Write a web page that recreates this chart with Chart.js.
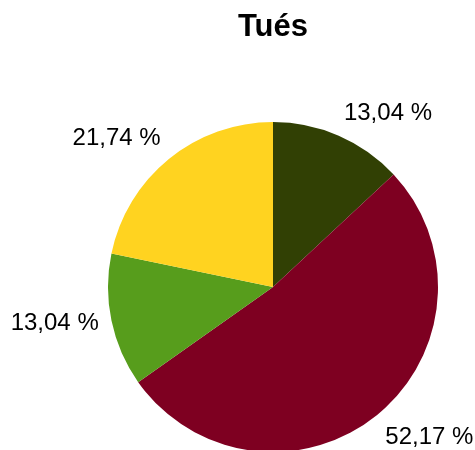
<!DOCTYPE html>
<html>
<head>
<meta charset="utf-8">
<script src="https://cdn.jsdelivr.net/npm/chart.js@4"></script>
<style>
  html, body { margin: 0; padding: 0; background: #fff; }
  #wrap { width: 475px; height: 450px; }
</style>
</head>
<body>
<div id="wrap"><canvas id="pie_chart"></canvas></div>
<script>
const titleText = "Tués";
const categories = ["A", "B", "C", "D"];
const values = [3, 12, 3, 5];
const colors = ["#314004", "#7e0021", "#579d1c", "#ffd320"];

// percent labels outside the slices, placed like LibreOffice does
const outsideLabels = {
  id: 'outsideLabels',
  afterDatasetsDraw(chart) {
    const { ctx } = chart;
    const meta = chart.getDatasetMeta(0);
    const total = values.reduce((a, b) => a + b, 0);
    ctx.save();
    ctx.font = '24px "Liberation Sans", Arial, sans-serif';
    ctx.fillStyle = '#000';
    meta.data.forEach((arc, i) => {
      const mid = (arc.startAngle + arc.endAngle) / 2;
      const r = arc.outerRadius + 13;
      const dx = Math.cos(mid), dy = Math.sin(mid);
      let x = arc.x + r * dx;
      let y = arc.y + r * dy;
      ctx.textAlign = dx >= 0 ? 'left' : 'right';
      if (dy < -0.3) {
        ctx.textBaseline = 'alphabetic';
        y -= 4;
      } else if (dy > 0.3) {
        ctx.textBaseline = 'top';
      } else {
        ctx.textBaseline = 'middle';
      }
      const txt = (values[i] / total * 100).toFixed(2).replace('.', ',') + ' %';
      ctx.fillText(txt, x, y);
    });
    ctx.restore();
  }
};

new Chart(document.getElementById('pie_chart'), {
  type: 'pie',
  data: {
    labels: categories,
    datasets: [{
      data: values,
      backgroundColor: colors,
      borderWidth: 0
    }]
  },
  options: {
    responsive: true,
    maintainAspectRatio: false,
    animation: false,
    radius: 165,
    layout: {
      padding: { left: 100, right: 29, top: 0, bottom: 0 }
    },
    plugins: {
      legend: { display: false },
      tooltip: { enabled: false },
      title: {
        display: true,
        text: titleText,
        color: '#000',
        font: { family: '"Liberation Sans", Arial, sans-serif', size: 31, weight: 'bold', lineHeight: 1.2 },
        padding: { top: 8.9, bottom: 77.9 }
      }
    },
    events: []
  },
  plugins: [outsideLabels]
});
</script>
</body>
</html>
